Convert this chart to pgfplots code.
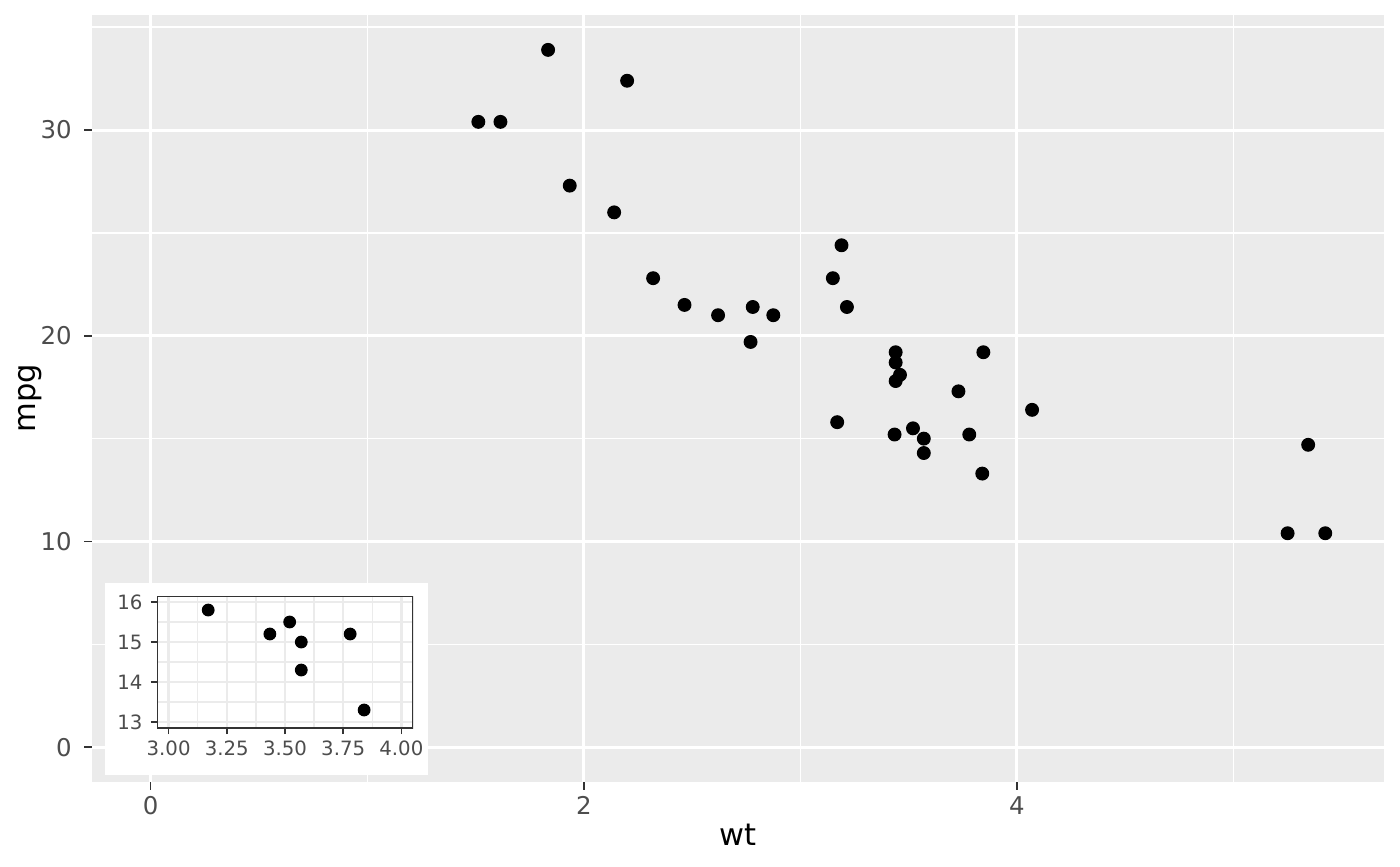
\documentclass[border=0pt]{standalone}
\usepackage{pgfplots}
\pgfplotsset{compat=1.18}
\usepackage{fontspec}
\setmainfont{DejaVu Sans}
\definecolor{panelbg}{HTML}{EBEBEB}
\definecolor{gridbw}{HTML}{EBEBEB}
\definecolor{txtgray}{HTML}{4D4D4D}
\definecolor{tickgray}{HTML}{333333}
\begin{document}
\begin{tikzpicture}
\path[use as bounding box] (0,0) rectangle (504pt,-311.76pt);
% main plot
\begin{axis}[
  at={(33.12pt,-5.4pt)}, anchor=north west,
  scale only axis, width=465.12pt, height=276.12pt,
  xmin=-0.2712, xmax=5.6952, ymin=-1.695, ymax=35.595,
  axis background/.style={fill=panelbg},
  axis line style={draw=none},
  xtick={0,2,4}, ytick={0,10,20,30},
  minor xtick={1,3,5}, minor ytick={5,15,25,35},
  xtick pos=left, ytick pos=left,
  tick align=outside, major tick length=2.75pt, minor tick length=0pt,
  every tick/.style={tickgray, line width=0.55pt},
  grid=both,
  major grid style={white, line width=1.05pt},
  minor grid style={white, line width=0.55pt},
  ticklabel style={font=\fontsize{8.8}{10}\selectfont, text=txtgray},
  /pgf/number format/assume math mode=true,
  xticklabel style={yshift=1pt},
  yticklabel style={xshift=-1pt},
]
\addplot[only marks, mark=*, mark size=2.3pt, black] table {
wt mpg
2.620 21.0
2.875 21.0
2.320 22.8
3.215 21.4
3.440 18.7
3.460 18.1
3.570 14.3
3.190 24.4
3.150 22.8
3.440 19.2
3.440 17.8
4.070 16.4
3.730 17.3
3.780 15.2
5.250 10.4
5.424 10.4
5.345 14.7
2.200 32.4
1.615 30.4
1.835 33.9
2.465 21.5
3.520 15.5
3.435 15.2
3.840 13.3
3.845 19.2
1.935 27.3
2.140 26.0
1.513 30.4
3.170 15.8
2.770 19.7
3.570 15.0
2.780 21.4
};
\end{axis}
\node[font=\fontsize{11}{13}\selectfont, black] at (265.68pt,-300.6pt) {wt};
\node[font=\fontsize{11}{13}\selectfont, black, rotate=90] at (10.8pt,-143.3pt) {mpg};
% inset
\fill[white] (37.8pt,-209.88pt) rectangle (154.08pt,-279pt);
\begin{axis}[
  at={(56.52pt,-214.56pt)}, anchor=north west,
  scale only axis, width=92.16pt, height=47.52pt,
  xmin=2.95, xmax=4.05, ymin=12.85, ymax=16.15,
  axis background/.style={fill=white},
  axis line style={draw=none},
  xtick={3,3.25,3.5,3.75,4}, ytick={13,14,15,16},
  minor xtick={3.125,3.375,3.625,3.875}, minor ytick={13.5,14.5,15.5},
  xtick pos=left, ytick pos=left,
  tick align=outside, major tick length=2.2pt, minor tick length=0pt,
  every tick/.style={tickgray, line width=0.5pt},
  grid=both,
  major grid style={gridbw, line width=0.85pt},
  minor grid style={gridbw, line width=0.45pt},
  ticklabel style={font=\fontsize{7.1}{8.5}\selectfont, text=txtgray},
  /pgf/number format/assume math mode=true,
  xticklabel style={yshift=1pt, /pgf/number format/.cd, fixed, fixed zerofill, precision=2},
  yticklabel style={xshift=0.5pt, /pgf/number format/.cd, fixed, precision=0},
]
\addplot[only marks, mark=*, mark size=2.1pt, black] table {
wt mpg
3.170 15.8
3.435 15.2
3.520 15.5
3.570 15.0
3.570 14.3
3.780 15.2
3.840 13.3
};
\draw[tickgray, line width=0.5pt] (rel axis cs:0,0) rectangle (rel axis cs:1,1);
\end{axis}
\end{tikzpicture}
\end{document}
